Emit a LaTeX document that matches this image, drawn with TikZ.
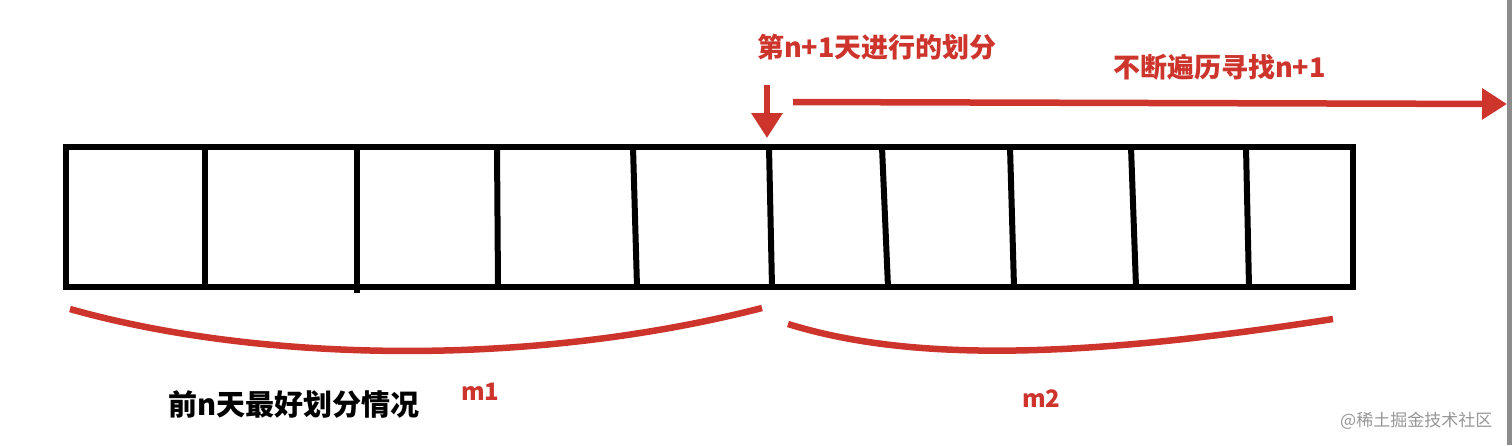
\documentclass[tikz,border=0pt]{standalone}
\usepackage{fontspec}
\setmainfont{Noto Sans CJK SC}
\usetikzlibrary{arrows.meta}

\definecolor{markred}{RGB}{204,52,44}
\definecolor{wmgray}{RGB}{150,150,150}

\tikzset{
    cellline/.style={line width=6pt, black},
    redline/.style={line width=6.5pt, markred},
    redarrow/.style={line width=6.5pt, markred, -{Triangle[length=25pt,width=30pt]}},
    redlabel/.style={text=markred, font=\bfseries\fontsize{27}{27}\selectfont, inner sep=0pt},
    mlabel/.style={text=markred, font=\bfseries\fontsize{24}{24}\selectfont, inner sep=0pt},
}

\begin{document}
\begin{tikzpicture}[x=1pt,y=-1pt]
    \useasboundingbox (0,0) rectangle (1512,445);

    % Day cells
    \draw[cellline] (66,147) rectangle (1353,287);
    \foreach \xt/\xb in {205/205, 357/357, 497/498, 633/637, 769/772, 882/888, 1010/1014, 1131/1136, 1246/1249}
        \draw[cellline] (\xt,147) -- (\xb,287);
    \draw[cellline] (357,287) -- (357,293);

    % Cut point of day n+1
    \coordinate (cuttop) at (767,85);
    \coordinate (cut) at (767,138);
    \draw[redarrow] (cuttop) -- (cut);

    % Search to the right
    \coordinate (scanstart) at (793,102);
    \coordinate (scanend) at (1507,104);
    \draw[redarrow] (scanstart) -- (scanend);

    % Braces under the cells
    \coordinate (leftA) at (70,309);
    \coordinate (leftB) at (762,308);
    \draw[redline] (leftA) .. controls (250,360) and (520,370) .. (leftB);
    \coordinate (rightA) at (788,324);
    \coordinate (rightB) at (1333,319);
    \draw[redline] (rightA) .. controls (920,365) and (1100,355) .. (rightB);

    % Labels
    \node[redlabel, anchor=west] (cutlabel) at (757,47) {第n+1天进行的划分};
    \node[redlabel, anchor=west] (scanlabel) at (1113,67) {不断遍历寻找n+1};
    \node[inner sep=0pt, anchor=west, font=\bfseries\fontsize{29}{29}\selectfont] (bestlabel) at (168,404) {前n天最好划分情况};
    \node[mlabel, anchor=west] (mone) at (461,392) {m1};
    \node[mlabel, anchor=west] (mtwo) at (1022,399) {m2};

    % Watermark and edge
    \node[text=wmgray, inner sep=0pt, anchor=west, font=\fontsize{17}{17}\selectfont] (mark) at (1340,421) {@稀土掘金技术社区};
    \fill[gray!90] (1507,0) rectangle (1512,445);
\end{tikzpicture}
\end{document}
